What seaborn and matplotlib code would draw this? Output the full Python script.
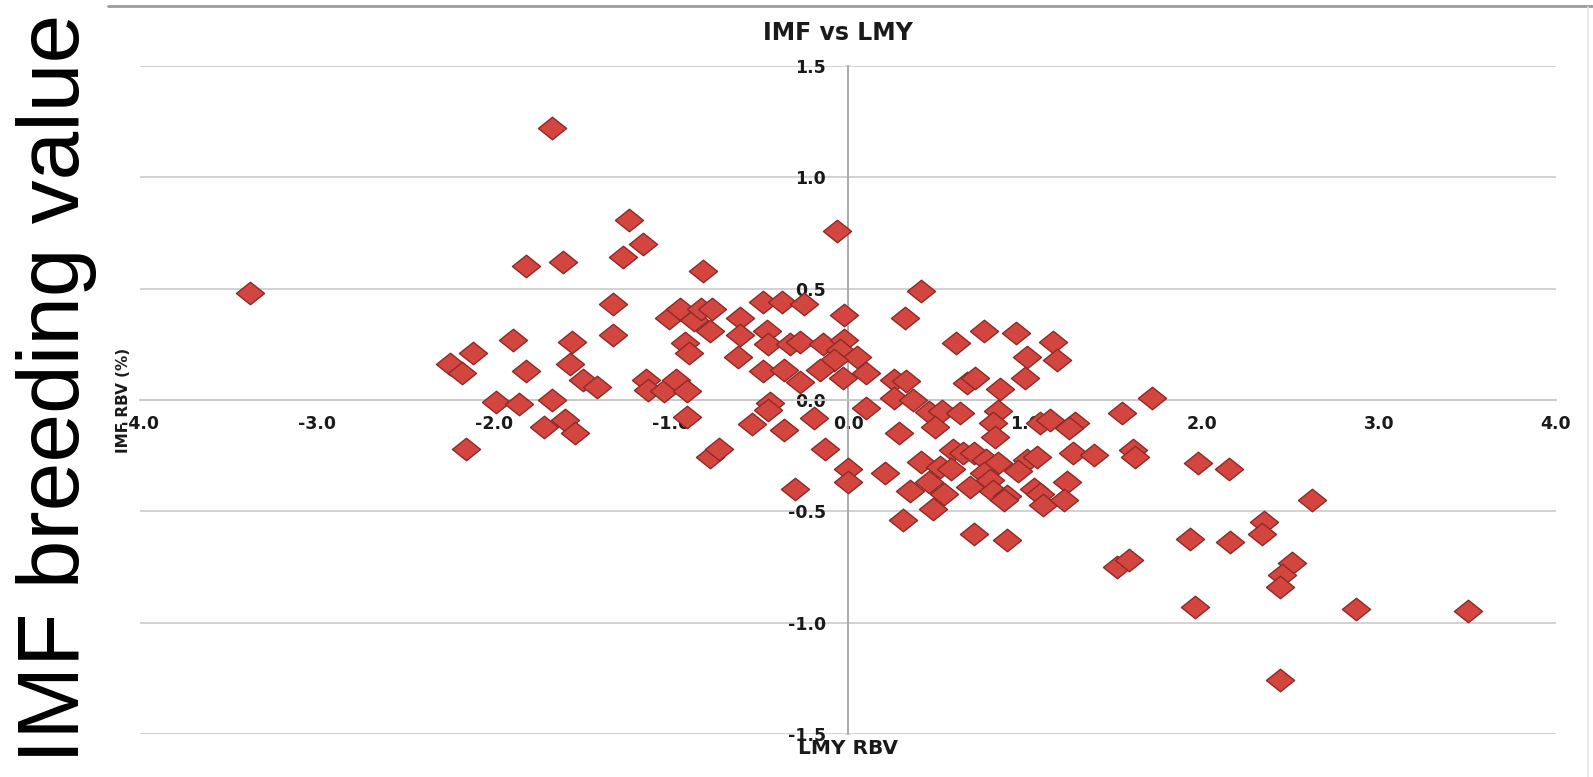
import numpy as np
import pandas as pd
import matplotlib
matplotlib.use("Agg")
import matplotlib.pyplot as plt
from matplotlib.markers import MarkerStyle
from matplotlib.path import Path
from matplotlib.lines import Line2D
from matplotlib.ticker import FormatStrFormatter
import seaborn as sns

# Relative breeding values: loin muscle yield (x) vs intramuscular fat (y)
lmy_rbv = [
    -3.38, -2.25, -2.18, -2.12, -2.16, -1.99, -1.89, -1.86, -1.82, -1.82,
    -1.72, -1.67, -1.67, -1.61, -1.60, -1.57, -1.56, -1.54, -1.50, -1.42,
    -1.33, -1.33, -1.27, -1.24, -1.16, -1.14, -1.13, -1.04, -0.97, -0.91,
    -0.91, -1.01, -0.95, -0.87, -0.83, -0.77, -0.78, -0.92, -0.90, -0.82,
    -0.78, -0.73, -0.61, -0.61, -0.62, -0.48, -0.375, -0.25, -0.46, -0.45,
    -0.33, -0.27, -0.14, -0.02, -0.02, -0.045, 0.05, -0.08, -0.48, -0.36,
    -0.27, -0.16, -0.03, 0.10, -0.44, -0.45, -0.54, -0.36, -0.19, -0.13,
    -0.30, 0.00, 0.00, -0.06, 0.10,
    0.32, 0.41, 0.61, 0.77, 0.95, 1.16, 1.01, 1.18, 0.67, 0.72,
    0.86, 1.00, 1.72, 0.26, 0.33, 0.26, 0.37, 0.46, 0.53, 0.63,
    0.85, 0.82, 0.49, 0.29, 1.085, 1.14, 1.28, 1.25, 1.55, 0.83,
    0.595, 0.65, 0.71, 0.78, 0.41, 0.52, 0.58, 0.85, 0.77, 1.01,
    1.07, 0.96, 1.27, 1.39, 1.61, 1.62, 1.98, 2.15, 0.21, 0.35,
    0.46, 0.54, 0.69, 0.80, 0.82, 0.90, 0.88, 1.05, 1.085, 1.10,
    1.235, 1.22, 0.48, 0.31, 0.71, 0.90, 1.52, 1.59, 1.93, 2.16,
    2.35, 2.34, 2.51, 2.45, 2.44, 2.62, 1.96, 2.87, 3.50, 2.44,
]
imf_rbv = [
    0.48, 0.16, 0.12, 0.21, -0.22, -0.01, 0.27, -0.02, 0.13, 0.60,
    -0.12, 0.00, 1.22, 0.62, -0.09, 0.16, 0.26, -0.15, 0.09, 0.06,
    0.43, 0.29, 0.64, 0.81, 0.70, 0.09, 0.045, 0.04, 0.09, 0.04,
    -0.075, 0.37, 0.41, 0.36, 0.41, 0.41, 0.31, 0.255, 0.21, 0.58,
    -0.255, -0.22, 0.37, 0.29, 0.195, 0.44, 0.44, 0.43, 0.31, 0.25,
    0.25, 0.26, 0.25, 0.38, 0.27, 0.225, 0.195, 0.18, 0.13, 0.135,
    0.08, 0.135, 0.10, 0.12, -0.015, -0.045, -0.11, -0.135, -0.08, -0.22,
    -0.40, -0.31, -0.37, 0.76, -0.035,
    0.37, 0.49, 0.255, 0.31, 0.30, 0.26, 0.195, 0.18, 0.075, 0.10,
    0.05, 0.10, 0.007, 0.09, 0.085, 0.007, 0.0, -0.055, -0.05, -0.06,
    -0.05, -0.105, -0.12, -0.15, -0.105, -0.09, -0.105, -0.127, -0.06, -0.165,
    -0.225, -0.24, -0.24, -0.27, -0.28, -0.30, -0.31, -0.285, -0.33, -0.27,
    -0.255, -0.32, -0.24, -0.247, -0.225, -0.255, -0.285, -0.31, -0.33, -0.41,
    -0.37, -0.42, -0.39, -0.36, -0.41, -0.43, -0.45, -0.40, -0.42, -0.47,
    -0.37, -0.45, -0.49, -0.54, -0.60, -0.63, -0.75, -0.72, -0.625, -0.636,
    -0.546, -0.60, -0.733, -0.786, -0.838, -0.449, -0.928, -0.94, -0.946, -1.257,
]

x_ticks = [-4.0, -3.0, -2.0, -1.0, 0.0, 1.0, 2.0, 3.0, 4.0]
y_ticks = [-1.5, -1.0, -0.5, 0.0, 0.5, 1.0, 1.5]

df = pd.DataFrame({"LMY": lmy_rbv, "IMF": imf_rbv})

sns.set_theme(style="white")
plt.rcParams["font.family"] = ["DejaVu Sans"]
plt.rcParams["axes.unicode_minus"] = False

W, H = 1593, 777
fig = plt.figure(figsize=(W / 100, H / 100), dpi=100)
ax = fig.add_axes([140 / W, (H - 734) / H, 1416 / W, 668 / H])

# flattened diamond marker (wider than tall)
diamond = MarkerStyle(Path([(-1, 0), (0, 0.8), (1, 0), (0, -0.8), (-1, 0)],
                           [Path.MOVETO, Path.LINETO, Path.LINETO, Path.LINETO,
                            Path.CLOSEPOLY]))

sns.scatterplot(data=df, x="LMY", y="IMF", ax=ax, marker=diamond, s=410,
                color="#D3463F", edgecolor="#8E2A27", linewidth=1.0,
                zorder=3, legend=False)

ax.set_xlim(x_ticks[0], x_ticks[-1])
ax.set_ylim(y_ticks[0], y_ticks[-1])
ax.set_xticks(x_ticks)
ax.set_yticks(y_ticks)
ax.xaxis.set_major_formatter(FormatStrFormatter("%.1f"))
ax.yaxis.set_major_formatter(FormatStrFormatter("%.1f"))

# axes crossing at the origin
ax.spines["left"].set_position(("data", 0))
ax.spines["bottom"].set_position(("data", 0))
ax.spines["right"].set_visible(False)
ax.spines["top"].set_visible(False)
ax.spines["left"].set_color("#A6A6A6")
ax.spines["left"].set_linewidth(1.3)
ax.spines["bottom"].set_color("#C8C8C8")
ax.spines["bottom"].set_linewidth(1.3)

ax.yaxis.grid(True, color="#CFCFCF", linewidth=1.3)
ax.xaxis.grid(False)
ax.set_axisbelow(True)

ax.tick_params(axis="both", length=0)
ax.tick_params(axis="x", pad=11)
ax.tick_params(axis="y", pad=16)
for lab in ax.get_xticklabels() + ax.get_yticklabels():
    lab.set_fontsize(12.5)
    lab.set_fontweight("bold")
    lab.set_color("#1A1A1A")

ax.set_title("IMF vs LMY", fontsize=17, fontweight="bold", color="#1A1A1A",
             x=0.493, y=1.039, pad=0)
ax.set_xlabel("LMY RBV", fontsize=14.5, fontweight="bold", color="#1A1A1A")
ax.xaxis.set_label_coords(0.5, -0.008)
ax.set_ylabel("IMF RBV (%)", fontsize=11, fontweight="bold", color="#1A1A1A")
ax.yaxis.set_label_coords(-0.012, 0.5)
ax.yaxis.label.set_va("center")

# large side caption
fig.text(16 / W, 0.5, "IMF breeding value", rotation=90, ha="left", va="center",
         fontsize=63, family=["Liberation Sans", "DejaVu Sans"], color="black")

# frame lines of the surrounding slide
fig.add_artist(Line2D([108 / W, 1.0], [1 - 6 / H] * 2, color="#9C9C9C", lw=2))
fig.add_artist(Line2D([1588 / W] * 2, [0, 1 - 7 / H], color="#E6E6E6", lw=1.2))

fig.savefig("out.png", dpi=100)
